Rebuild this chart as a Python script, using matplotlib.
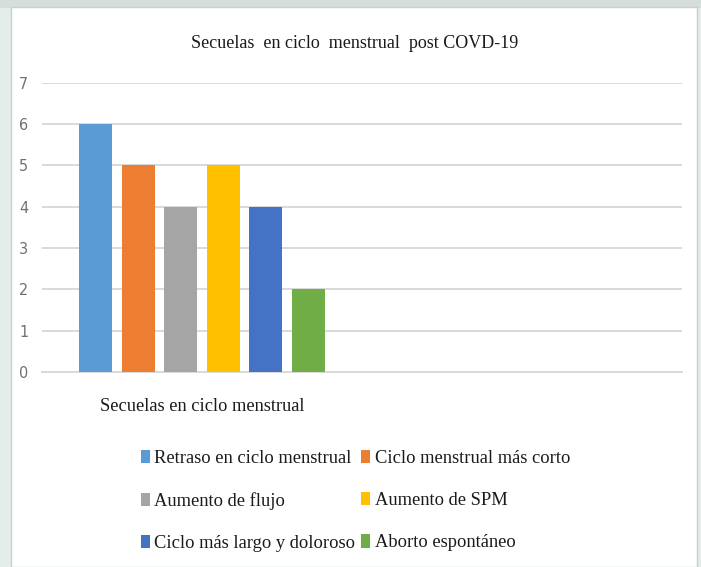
import matplotlib
matplotlib.use("Agg")
import matplotlib.pyplot as plt
from matplotlib.patches import Rectangle

# datos
categorias = ["Secuelas en ciclo menstrual", ""]
series = [
    "Retraso en ciclo menstrual",
    "Ciclo menstrual más corto",
    "Aumento de flujo",
    "Aumento de SPM",
    "Ciclo más largo y doloroso",
    "Aborto espontáneo",
]
valores = [6, 5, 4, 5, 4, 2]
colores = ["#5B9BD5", "#ED7D31", "#A5A5A5", "#FFC000", "#4472C4", "#70AD47"]
titulo = "Secuelas  en ciclo  menstrual  post COVD-19"

W, H = 701, 567
fig = plt.figure(figsize=(W / 100, H / 100), dpi=100, facecolor="#e4edea")

# marco de la captura: franja superior y panel blanco
fig.patches.append(Rectangle((0, 1 - 8 / H), 1, 8 / H, transform=fig.transFigure,
                             facecolor="#d5dedb", edgecolor="none", zorder=-2))
fig.patches.append(Rectangle((11 / W, 0), (697 - 11) / W, (H - 7) / H,
                             transform=fig.transFigure, facecolor="white",
                             edgecolor="#c9cfcd", linewidth=1.0, zorder=-1))

ax = fig.add_axes([42 / W, 1 - 372 / H, (682 - 42) / W, (372 - 82.7) / H])
ax.set_facecolor("none")
ax.set_zorder(1)

paso = 42.5 / 320
ancho = 33 / 320
n = len(series)
for i, (s, v, c) in enumerate(zip(series, valores, colores)):
    ax.bar(0.5 + (i - (n - 1) / 2) * paso, v, width=ancho, color=c, label=s, zorder=3)

ax.set_xlim(0, len(categorias))
ax.set_ylim(0, 7)
ax.set_yticks(range(0, 8))
ax.grid(axis="y", color="#d9d9d9", linewidth=1.4, zorder=0)
for lado in ["top", "right", "left"]:
    ax.spines[lado].set_visible(False)
ax.spines["bottom"].set_color("#d9d9d9")
ax.spines["bottom"].set_linewidth(1.4)
ax.tick_params(axis="y", length=0, pad=10, labelsize=11.5, labelcolor="#707070")
for t in ax.get_yticklabels():
    t.set_fontfamily("DejaVu Sans")
    t.set_fontstretch("condensed")
ax.set_xticks([0.5])
ax.set_xticklabels([categorias[0]], fontfamily="Liberation Serif", fontsize=13.2,
                   color="#1a1a1a")
ax.tick_params(axis="x", length=0, pad=19)

fig.text(355 / W, 1 - 43 / H, titulo, ha="center", va="center",
         fontfamily="Liberation Serif", fontsize=13.0, color="#1a1a1a")

# leyenda por filas (matplotlib llena por columnas)
h, l = ax.get_legend_handles_labels()
orden = [0, 2, 4, 1, 3, 5]
fig.legend([h[i] for i in orden], [l[i] for i in orden], ncol=2,
           loc="upper left", bbox_to_anchor=(124 / W, 1 - 433 / H),
           frameon=False, prop={"family": "Liberation Serif", "size": 13.3},
           handlelength=0.5, handleheight=0.75, handletextpad=0.25,
           columnspacing=0.3, labelspacing=1.36, labelcolor="#1a1a1a")

fig.savefig("out.png", dpi=100, facecolor=fig.get_facecolor())
